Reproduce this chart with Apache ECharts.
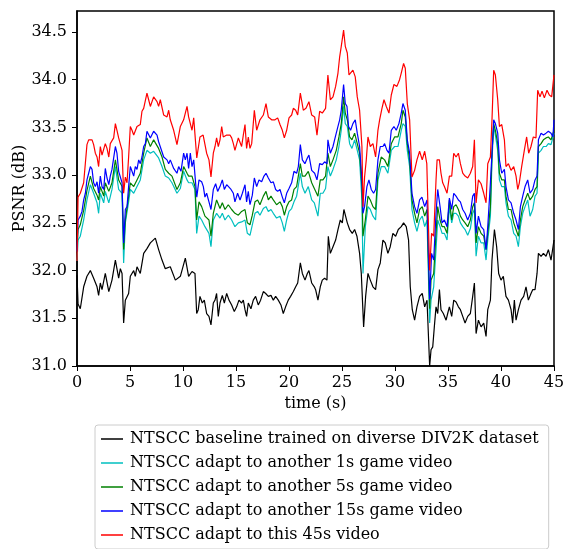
<!DOCTYPE html>
<html><head><meta charset="utf-8">
<script src="https://cdn.jsdelivr.net/npm/echarts@6/dist/echarts.min.js"></script>
<style>html,body{margin:0;padding:0;background:#fff}#c{width:565px;height:549px}</style>
</head><body><div id="c"></div>
<script>
const seriesNames = [
  'NTSCC baseline trained on diverse DIV2K dataset',
  'NTSCC adapt to another 1s game video',
  'NTSCC adapt to another 5s game video',
  'NTSCC adapt to another 15s game video',
  'NTSCC adapt to this 45s video'
];
const seriesColors = ['#000000', '#00bfbf', '#008000', '#0000ff', '#ff0000'];
const xTicks = [0, 5, 10, 15, 20, 25, 30, 35, 40, 45];
const yTicks = [31.0, 31.5, 32.0, 32.5, 33.0, 33.5, 34.0, 34.5];

// [time (s), PSNR (dB)]
const blackData = [[0,31.95],[0.1,31.65],[0.31,31.6],[0.63,31.83],[0.94,31.94],[1.26,32.0],[1.57,31.92],[1.89,31.83],[2.04,31.74],[2.2,31.87],[2.36,31.8],[2.67,31.97],[3.0,31.78],[3.3,31.9],[3.62,32.11],[3.93,31.92],[4.09,32.02],[4.25,31.97],[4.4,31.45],[4.56,31.69],[4.87,31.76],[5.03,31.94],[5.35,32.0],[5.5,31.94],[5.66,32.04],[5.97,31.97],[6.29,32.18],[6.6,32.23],[6.92,32.29],[7.39,32.34],[7.7,32.22],[8.02,32.11],[8.33,32.02],[8.8,32.04],[9.28,31.9],[9.75,31.94],[10.22,32.13],[10.53,31.94],[10.85,31.99],[11.13,31.97],
[11.29,31.55],[11.44,31.59],[11.6,31.73],[11.82,31.66],[12.01,31.69],[12.23,31.55],[12.45,31.52],[12.64,31.43],[12.86,31.66],[13.02,31.69],[13.17,31.76],[13.33,31.52],[13.49,31.66],[13.71,31.74],[13.9,31.66],[14.12,31.76],[14.34,31.69],[14.59,31.64],[14.84,31.57],[15.06,31.62],[15.28,31.69],[15.53,31.66],[15.69,31.69],[15.85,31.59],[16.0,31.52],[16.16,31.66],[16.41,31.6],[16.63,31.69],[16.85,31.73],[17.1,31.64],[17.32,31.69],[17.58,31.78],[17.8,31.76],[18.05,31.73],[18.3,31.74],[18.52,31.69],[18.74,31.73],[18.99,31.69],[19.24,31.64],[19.46,31.55],[19.68,31.62],[19.93,31.69],[20.15,31.73],[20.41,31.78],[20.63,31.83],[20.82,31.87],[21.07,32.08],[21.26,31.97],[21.51,31.9],[21.73,31.97],[21.88,32.0],[22.14,31.87],[22.39,31.83],
[22.51,31.8],[22.73,31.69],[22.95,31.83],[23.14,31.9],[23.36,31.92],[23.58,31.9],[23.71,32.36],[23.9,32.18],[24.15,32.25],[24.4,32.32],[24.62,32.43],[24.84,32.53],[25.03,32.5],[25.18,32.64],[25.34,32.57],[25.5,32.5],[25.72,32.43],[25.97,32.39],[26.19,32.43],[26.41,32.36],[26.66,32.18],[26.82,31.97],[27.04,31.41],[27.23,31.73],[27.45,31.97],[27.67,31.9],[27.92,31.83],[28.17,31.8],[28.39,32.01],[28.61,32.08],[28.86,32.32],[29.08,32.29],[29.33,32.18],[29.55,32.25],[29.8,32.39],[30.06,32.36],[30.31,32.43],[30.59,32.46],[30.81,32.5],[31.06,32.46],[31.28,32.32],[31.44,31.83],[31.63,31.59],[31.85,31.48],[32.07,31.62],[32.32,31.73],[32.57,31.76],[32.8,31.62],[33.02,31.69],[33.27,31.0],
[33.4,31.17],[33.56,31.2],[33.71,31.41],[33.87,31.62],[34.03,31.55],[34.19,31.8],[34.34,31.59],[34.56,31.55],[34.82,31.48],[34.97,31.55],[35.13,31.62],[35.35,31.52],[35.54,31.69],[35.76,31.67],[35.98,31.62],[36.17,31.59],[36.39,31.52],[36.61,31.45],[36.86,31.52],[37.11,31.55],[37.33,31.73],[37.49,31.87],[37.65,31.34],[37.87,31.48],[38.12,31.41],[38.37,31.45],[38.59,31.31],[38.75,31.59],[39.0,31.69],[39.15,32.11],[39.38,32.43],[39.59,32.25],[39.78,31.97],[40.0,31.9],[40.22,31.94],[40.47,31.73],[40.7,31.69],[40.95,31.59],[41.1,31.45],[41.26,31.69],[41.42,31.48],[41.64,31.59],[41.89,31.69],[42.14,31.73],[42.36,31.83],[42.58,31.69],[42.83,31.76],[42.99,31.8],[43.21,31.8],[43.4,31.97],[43.53,32.18],[43.78,32.15],[44.0,32.18],[44.25,32.15],[44.47,32.22],[44.72,32.11],[45.0,32.32]];

const cyanData = [[0,32.1],[0.1,32.32],[0.31,32.36],[0.63,32.53],[0.94,32.74],[1.26,32.9],[1.57,32.81],[1.89,32.71],[2.04,32.6],[2.2,32.81],[2.52,32.71],[2.67,32.83],[3.0,32.71],[3.3,32.85],[3.62,33.09],[3.93,32.85],[4.25,32.81],[4.4,32.08],[4.56,32.5],[4.87,32.72],[5.03,32.85],[5.35,32.81],[5.66,32.88],[5.97,32.95],[6.29,33.16],[6.6,33.26],[6.92,33.23],[7.23,33.25],[7.7,33.18],[8.02,33.09],[8.33,32.99],[8.65,32.97],[8.96,32.92],[9.43,32.81],[9.75,32.86],[10.06,33.04],[10.38,32.95],[10.53,32.92],[10.85,32.92],[11.13,32.85],
[11.29,32.39],[11.51,32.57],[11.76,32.53],[12.07,32.46],[12.45,32.39],[12.64,32.25],[12.86,32.53],[13.17,32.6],[13.49,32.55],[13.71,32.6],[13.96,32.53],[14.27,32.58],[14.59,32.53],[14.9,32.46],[15.22,32.5],[15.53,32.51],[15.85,32.53],[16.07,32.39],[16.32,32.37],[16.54,32.48],[16.79,32.6],[17.04,32.62],[17.26,32.58],[17.58,32.65],[17.83,32.67],[18.05,32.62],[18.3,32.64],[18.52,32.6],[18.83,32.55],[19.15,32.57],[19.37,32.5],[19.56,32.41],[19.78,32.53],[20.0,32.62],[20.25,32.65],[20.47,32.72],[20.72,32.78],[21.07,33.02],[21.26,32.88],[21.51,32.81],[21.82,32.88],[22.14,32.74],[22.39,32.71],
[22.51,32.72],[22.73,32.57],[22.95,32.81],[23.2,32.81],[23.45,32.86],[23.67,33.09],[23.9,32.99],[24.15,33.06],[24.46,33.16],[24.71,33.3],[24.93,33.47],[25.15,33.72],[25.31,33.54],[25.5,33.51],[25.72,33.33],[25.94,33.28],[26.19,33.37],[26.44,33.26],[26.66,33.16],[26.88,32.74],[26.98,31.97],[27.2,32.46],[27.45,32.67],[27.67,32.64],[27.92,32.57],[28.17,32.53],[28.39,32.95],[28.7,33.09],[29.02,33.09],[29.33,33.02],[29.65,33.26],[29.96,33.3],[30.28,33.3],[30.59,33.47],[30.75,33.54],[30.97,33.51],[31.16,33.26],[31.38,33.09],[31.6,32.64],[31.85,32.5],[32.07,32.41],[32.32,32.53],[32.57,32.57],[32.8,32.46],[33.02,32.53],[33.27,31.45],
[33.4,31.69],[33.65,31.83],[33.87,32.22],[34.03,32.53],[34.25,32.46],[34.44,32.39],[34.66,32.39],[34.91,32.32],[35.13,32.67],[35.35,32.5],[35.54,32.6],[35.76,32.6],[35.98,32.57],[36.17,32.5],[36.39,32.46],[36.61,32.43],[36.86,32.37],[37.11,32.44],[37.33,32.6],[37.49,32.64],[37.65,32.15],[37.87,32.36],[38.12,32.29],[38.37,32.29],[38.59,32.11],[38.75,32.32],[39.0,32.57],[39.15,33.16],[39.31,33.51],[39.47,33.42],[39.69,33.26],[39.85,32.95],[40.07,32.88],[40.32,32.88],[40.47,32.71],[40.7,32.57],[40.95,32.53],[41.2,32.39],[41.42,32.36],[41.64,32.25],[41.83,32.46],[42.05,32.6],[42.27,32.67],[42.52,32.74],[42.74,32.57],[42.99,32.64],[43.21,32.78],[43.4,32.81],[43.53,33.23],[43.78,33.26],[44.0,33.3],[44.25,33.3],[44.47,33.33],[44.72,33.32],[45.0,33.44]];

const greenData = [[0,32.2],[0.1,32.43],[0.31,32.48],[0.63,32.63],[0.94,32.84],[1.26,32.99],[1.57,32.86],[1.89,32.79],[2.04,32.74],[2.2,32.88],[2.52,32.78],[2.67,32.92],[3.0,32.83],[3.3,32.92],[3.62,33.16],[3.93,32.95],[4.25,32.88],[4.4,32.22],[4.56,32.53],[4.87,32.78],[5.03,32.92],[5.35,32.88],[5.66,32.95],[5.97,33.02],[6.29,33.23],[6.6,33.39],[6.92,33.3],[7.23,33.37],[7.7,33.28],[8.02,33.19],[8.33,33.06],[8.65,33.02],[8.96,32.99],[9.43,32.85],[9.75,32.92],[10.06,33.09],[10.38,33.02],[10.53,32.99],[10.85,32.99],[11.13,32.88],
[11.29,32.53],[11.51,32.72],[11.76,32.67],[12.07,32.57],[12.45,32.53],[12.64,32.36],[12.86,32.6],[13.17,32.74],[13.49,32.65],[13.71,32.71],[13.96,32.64],[14.27,32.69],[14.59,32.64],[14.9,32.6],[15.22,32.58],[15.53,32.62],[15.85,32.64],[16.07,32.5],[16.32,32.48],[16.54,32.58],[16.79,32.72],[17.04,32.74],[17.26,32.69],[17.58,32.78],[17.83,32.83],[18.05,32.74],[18.3,32.78],[18.52,32.74],[18.83,32.69],[19.15,32.72],[19.37,32.67],[19.56,32.58],[19.78,32.67],[20.0,32.72],[20.25,32.74],[20.47,32.85],[20.72,32.88],[21.07,33.12],[21.26,32.99],[21.51,32.99],[21.82,33.04],[22.14,32.92],[22.39,32.86],
[22.51,32.85],[22.73,32.78],[22.95,32.95],[23.2,32.95],[23.45,32.99],[23.67,33.23],[23.9,33.09],[24.15,33.16],[24.46,33.26],[24.71,33.4],[24.93,33.54],[25.15,33.82],[25.31,33.65],[25.5,33.58],[25.72,33.4],[25.94,33.37],[26.19,33.44],[26.44,33.33],[26.66,33.23],[26.88,32.88],[26.98,32.36],[27.2,32.53],[27.45,32.78],[27.67,32.74],[27.92,32.67],[28.17,32.64],[28.39,33.02],[28.7,33.19],[29.02,33.16],[29.33,33.09],[29.65,33.33],[29.96,33.4],[30.28,33.4],[30.59,33.54],[30.75,33.68],[30.97,33.61],[31.16,33.33],[31.38,33.16],[31.6,32.74],[31.85,32.6],[32.07,32.5],[32.32,32.64],[32.57,32.67],[32.8,32.57],[33.02,32.64],[33.27,31.6],
[33.4,31.9],[33.65,31.97],[33.87,32.39],[34.03,32.67],[34.25,32.53],[34.44,32.46],[34.66,32.46],[34.91,32.39],[35.13,32.74],[35.35,32.53],[35.54,32.67],[35.76,32.69],[35.98,32.64],[36.17,32.57],[36.39,32.53],[36.61,32.5],[36.86,32.46],[37.11,32.53],[37.33,32.67],[37.49,32.71],[37.65,32.29],[37.87,32.46],[38.12,32.39],[38.37,32.36],[38.59,32.22],[38.75,32.39],[39.0,32.67],[39.15,33.23],[39.31,33.54],[39.47,33.47],[39.69,33.33],[39.85,33.02],[40.07,32.95],[40.32,32.95],[40.47,32.78],[40.7,32.64],[40.95,32.64],[41.2,32.5],[41.42,32.43],[41.64,32.36],[41.83,32.53],[42.05,32.67],[42.27,32.74],[42.52,32.81],[42.74,32.74],[42.99,32.78],[43.21,32.85],[43.4,32.88],[43.53,33.3],[43.78,33.33],[44.0,33.37],[44.25,33.39],[44.47,33.4],[44.72,33.37],[45.0,33.47]];

const blueData = [[0,32.2],[0.1,32.53],[0.31,32.57],[0.47,32.62],[0.63,32.74],[0.79,32.81],[0.94,32.95],[1.1,33.02],[1.26,33.09],[1.42,33.06],[1.57,32.92],[1.73,32.88],[1.89,32.93],[2.04,32.81],[2.2,32.99],[2.36,32.88],[2.52,32.85],[2.67,33.07],[2.83,32.97],[3.0,32.9],[3.14,32.99],[3.3,33.06],[3.46,33.18],[3.62,33.3],[3.77,33.23],[3.93,33.04],[4.09,33.02],[4.25,32.92],[4.4,32.29],[4.56,32.64],[4.72,32.67],[4.87,32.88],[5.03,33.09],[5.19,33.11],[5.35,32.99],[5.5,33.09],[5.66,33.06],[5.82,33.16],[5.97,33.12],[6.13,33.19],[6.29,33.3],[6.45,33.33],[6.6,33.46],[6.76,33.44],[6.92,33.39],[7.08,33.37],[7.23,33.46],[7.55,33.42],[7.7,33.35],[7.86,33.33],[8.18,33.19],[8.33,33.19],[8.49,33.16],[8.65,33.12],[8.8,33.16],[9.12,33.07],[9.43,33.02],[9.59,33.09],[9.81,33.04],[10.06,33.23],[10.22,33.16],[10.38,33.23],[10.53,33.07],[10.69,33.23],[10.85,33.09],[11.01,33.16],
[11.3,32.77],[11.51,32.95],[11.76,32.93],[11.92,32.88],[12.07,32.77],[12.23,32.81],[12.45,32.72],[12.64,32.64],[12.86,32.85],[13.08,32.91],[13.27,32.83],[13.49,32.88],[13.71,32.95],[13.9,32.85],[14.12,32.9],[14.27,32.88],[14.53,32.85],[14.75,32.81],[14.9,32.72],[15.15,32.81],[15.38,32.74],[15.6,32.81],[15.85,32.9],[16.0,32.72],[16.16,32.83],[16.32,32.69],[16.54,32.79],[16.73,32.97],[16.95,32.88],[17.17,32.95],[17.42,32.93],[17.64,32.99],[17.83,33.02],[18.05,32.97],[18.3,32.92],[18.52,32.93],[18.74,32.85],[18.93,32.83],[19.15,32.85],[19.37,32.77],[19.56,32.71],[19.78,32.81],[20.0,32.86],[20.25,32.92],[20.47,33.04],[20.72,33.02],[20.88,33.09],[21.07,33.32],[21.26,33.16],[21.5,33.12],[21.73,33.18],[21.88,33.21],[22.14,33.05],
[22.42,33.02],[22.64,32.95],[22.89,33.12],[23.14,33.11],[23.36,33.14],[23.58,33.12],[23.67,33.37],[23.9,33.23],[24.15,33.3],[24.37,33.4],[24.62,33.51],[24.78,33.58],[24.93,33.68],[25.15,33.95],[25.31,33.75],[25.47,33.72],[25.62,33.51],[25.81,33.47],[26.03,33.54],[26.25,33.58],[26.44,33.44],[26.66,33.3],[26.88,32.95],[26.98,32.6],[27.13,32.67],[27.35,32.88],[27.54,32.95],[27.76,32.85],[27.98,32.81],[28.17,32.85],[28.39,33.16],[28.61,33.3],[28.86,33.3],[29.02,33.33],[29.24,33.26],[29.43,33.23],[29.65,33.47],[29.9,33.51],[30.12,33.47],[30.37,33.54],[30.59,33.65],[30.75,33.75],[30.97,33.68],[31.16,33.37],[31.38,33.23],[31.6,32.81],[31.85,32.67],[32.07,32.6],[32.32,32.74],[32.54,32.77],[32.8,32.67],[33.02,32.74],[33.27,31.7],
[33.45,32.18],[33.65,32.11],[33.87,32.6],[34.03,32.85],[34.25,32.67],[34.44,32.5],[34.66,32.53],[34.91,32.46],[35.13,32.76],[35.35,32.64],[35.54,32.81],[35.76,32.78],[35.98,32.74],[36.17,32.72],[36.39,32.64],[36.61,32.6],[36.86,32.53],[37.11,32.6],[37.33,32.78],[37.49,32.81],[37.65,32.39],[37.87,32.57],[38.12,32.46],[38.37,32.43],[38.59,32.22],[38.75,32.46],[39.0,32.92],[39.15,33.23],[39.31,33.58],[39.47,33.54],[39.69,33.44],[39.85,33.16],[40.07,33.02],[40.32,33.06],[40.47,32.88],[40.7,32.74],[40.95,32.71],[41.2,32.6],[41.42,32.53],[41.64,32.43],[41.83,32.67],[42.05,32.78],[42.27,32.88],[42.52,32.95],[42.74,32.81],[42.99,32.85],[43.21,32.95],[43.4,32.99],[43.53,33.37],[43.78,33.44],[44.0,33.42],[44.25,33.44],[44.47,33.46],[44.72,33.44],[44.9,33.4],[45.0,33.58]];

const redData = [[0,32.1],[0.1,32.77],[0.31,32.81],[0.63,32.92],[0.94,33.32],[1.1,33.37],[1.26,33.37],[1.42,33.37],[1.57,33.32],[1.73,33.23],[1.89,33.19],[2.04,33.09],[2.2,33.3],[2.36,33.21],[2.52,33.19],[2.67,33.33],[2.83,33.28],[3.0,33.19],[3.14,33.33],[3.3,33.32],[3.46,33.39],[3.62,33.54],[3.77,33.47],[3.93,33.39],[4.09,33.4],[4.25,33.26],[4.4,32.81],[4.56,32.98],[4.72,32.92],[4.87,33.19],[5.03,33.51],[5.19,33.47],[5.35,33.42],[5.66,33.51],[5.97,33.53],[6.13,33.67],[6.29,33.7],[6.45,33.7],[6.6,33.86],[6.76,33.79],[6.92,33.72],[7.08,33.72],[7.23,33.82],[7.55,33.77],[7.7,33.72],[7.86,33.79],[8.18,33.63],[8.49,33.61],[8.65,33.68],[8.8,33.58],[9.12,33.47],[9.43,33.32],[9.75,33.51],[10.06,33.58],[10.38,33.72],[10.53,33.61],[10.85,33.47],[11.01,33.6],
[11.3,33.18],[11.6,33.4],[11.9,33.42],[12.07,33.4],[12.23,33.23],[12.45,33.16],[12.64,32.98],[12.86,33.23],[13.02,33.3],[13.17,33.39],[13.33,33.3],[13.49,33.37],[13.65,33.51],[13.8,33.4],[14.12,33.42],[14.43,33.42],[14.59,33.39],[14.75,33.33],[14.9,33.26],[15.06,33.28],[15.22,33.39],[15.38,33.37],[15.53,33.3],[15.69,33.42],[15.85,33.53],[16.0,33.28],[16.16,33.4],[16.32,33.28],[16.48,33.33],[16.73,33.68],[16.95,33.47],[17.26,33.58],[17.58,33.63],[17.83,33.75],[18.05,33.61],[18.36,33.58],[18.68,33.58],[18.93,33.6],[19.15,33.53],[19.37,33.47],[19.56,33.39],[19.78,33.47],[20.0,33.6],[20.25,33.63],[20.41,33.7],[20.63,33.68],[20.82,33.63],[21.07,33.86],[21.35,33.68],[21.6,33.7],[21.88,33.77],[22.14,33.63],
[22.42,33.61],[22.64,33.42],[22.89,33.67],[23.14,33.65],[23.45,33.7],[23.67,34.05],[23.9,33.79],[24.15,33.82],[24.4,33.93],[24.62,34.07],[24.78,34.24],[24.93,34.35],[25.15,34.52],[25.31,34.35],[25.5,34.28],[25.66,34.05],[25.81,34.03],[26.03,34.1],[26.25,34.03],[26.44,33.82],[26.66,33.68],[26.88,33.3],[26.98,32.67],[27.13,32.98],[27.29,33.16],[27.45,33.4],[27.67,33.3],[27.92,33.33],[28.17,33.19],[28.39,33.47],[28.55,33.58],[28.77,33.7],[28.96,33.79],[29.18,33.72],[29.43,33.65],[29.65,33.84],[29.9,33.95],[30.18,33.93],[30.43,34.0],[30.59,34.07],[30.81,34.17],[30.97,34.12],[31.16,33.75],[31.38,33.58],[31.6,32.98],[31.85,33.05],[32.07,33.16],[32.32,33.25],[32.57,33.16],[32.8,33.25],[33.0,33.12],[33.27,32.0],
[33.45,32.39],[33.65,32.36],[33.87,32.95],[33.97,33.16],[34.19,33.16],[34.34,33.02],[34.5,32.92],[34.66,32.88],[34.91,32.81],[35.13,32.99],[35.35,32.99],[35.54,33.23],[35.76,33.19],[35.98,33.23],[36.17,33.12],[36.39,33.02],[36.61,32.99],[36.86,32.97],[37.11,33.02],[37.33,33.09],[37.49,33.37],[37.65,32.71],[37.87,32.95],[38.12,32.91],[38.37,32.81],[38.59,32.71],[38.75,33.12],[39.0,33.19],[39.15,33.58],[39.31,34.1],[39.47,34.05],[39.69,33.79],[39.85,33.51],[40.07,33.53],[40.32,33.37],[40.47,33.09],[40.7,33.12],[40.95,33.05],[41.2,33.09],[41.42,32.99],[41.58,32.85],[41.73,32.92],[41.95,33.09],[42.2,33.26],[42.42,33.4],[42.61,33.23],[42.83,33.3],[43.05,33.4],[43.3,33.39],[43.46,33.89],[43.68,33.82],[43.87,33.88],[44.09,33.81],[44.34,33.89],[44.56,33.84],[44.78,33.82],[45.0,34.05]];

const allData = [blackData, cyanData, greenData, blueData, redData];
const FONT = 'DejaVu Serif';

const chart = echarts.init(document.getElementById('c'), null, {renderer: 'canvas'});
chart.setOption({
  animation: false,
  backgroundColor: '#fff',
  grid: {left: 77, right: 11, top: 11, bottom: 183, containLabel: false, outerBoundsMode: 'none', show: true, borderColor: '#000', borderWidth: 1.5, backgroundColor: 'transparent'},
  xAxis: {
    type: 'value', min: 0, max: 45, interval: 5,
    name: 'time (s)', nameLocation: 'middle', nameGap: 30, nameMoveOverlap: false,
    nameTextStyle: {fontFamily: FONT, fontSize: 16, color: '#000'},
    axisLine: {show: true, lineStyle: {color: '#000', width: 1.5}},
    axisTick: {show: true, inside: false, length: 5, lineStyle: {color: '#000', width: 1}, customValues: xTicks},
    axisLabel: {fontFamily: FONT, fontSize: 16, color: '#000', margin: 9, customValues: xTicks, formatter: v => String(v)},
    splitLine: {show: false}
  },
  yAxis: {
    type: 'value', min: 31.0, max: 34.72, interval: 0.5,
    name: 'PSNR (dB)', nameLocation: 'middle', nameGap: 49, nameMoveOverlap: false,
    nameTextStyle: {fontFamily: FONT, fontSize: 16, color: '#000'},
    axisLine: {show: true, lineStyle: {color: '#000', width: 1.5}},
    axisTick: {show: true, inside: false, length: 5, lineStyle: {color: '#000', width: 1}, customValues: yTicks},
    axisLabel: {fontFamily: FONT, fontSize: 16, color: '#000', margin: 10, customValues: yTicks, formatter: v => v.toFixed(1)},
    splitLine: {show: false}
  },
  legend: {
    orient: 'vertical', left: 95, top: 425,
    data: seriesNames.map((n, i) => ({name: n, icon: 'rect', itemStyle: {color: seriesColors[i]}})),
    itemWidth: 22, itemHeight: 1.5, itemGap: 8,
    padding: [6, 10, 6, 6],
    borderColor: '#cccccc', borderWidth: 1, borderRadius: 3, backgroundColor: '#fff',
    textStyle: {fontFamily: FONT, fontSize: 16, color: '#000', lineHeight: 16, padding: [0, 0, 0, 2]}
  },
  series: allData.map((d, i) => ({
    name: seriesNames[i], type: 'line', data: d, showSymbol: false, symbol: 'none',
    lineStyle: {color: seriesColors[i], width: 1.2}, itemStyle: {color: seriesColors[i]},
    z: 2 + i, silent: true
  }))
});
</script></body></html>
